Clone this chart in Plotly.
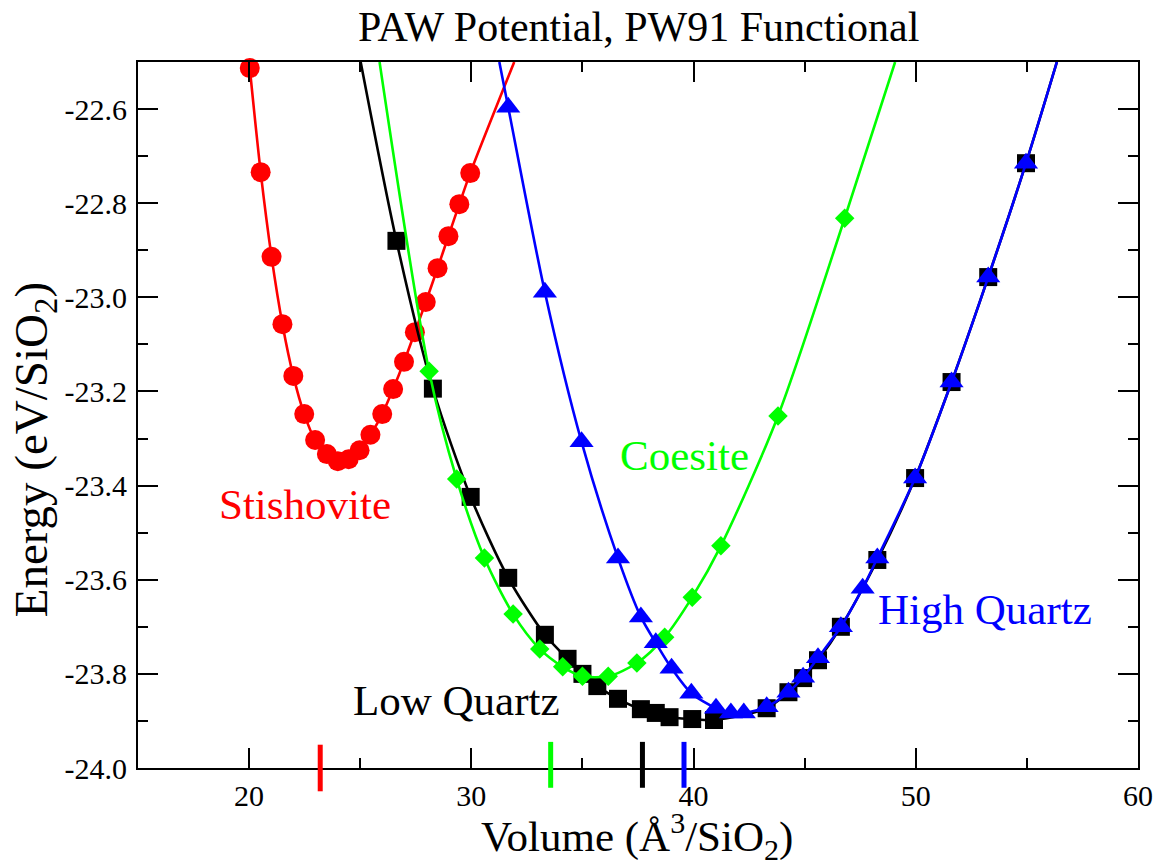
import plotly.graph_objects as go

# ---------------- data ----------------
stish_v = [20.03, 20.52, 21.01, 21.50, 21.99, 22.48, 22.97, 23.50, 23.99, 24.48, 24.97,
           25.46, 25.99, 26.48, 26.97, 27.46, 27.95, 28.48, 28.97, 29.46, 29.95]
stish_e = [-22.513, -22.734, -22.914, -23.057, -23.167, -23.248, -23.303, -23.333, -23.348,
           -23.344, -23.325, -23.292, -23.248, -23.195, -23.137, -23.074, -23.010, -22.938,
           -22.870, -22.802, -22.736]
stish_fit_v = [20.03, 20.52, 21.01, 21.50, 21.99, 22.48, 22.97, 23.50, 23.99, 24.48, 24.97,
               25.46, 25.99, 26.48, 26.97, 27.46, 27.95, 28.48, 28.97, 29.46, 29.95, 31.93]
stish_fit_e = [-22.513, -22.734, -22.914, -23.057, -23.167, -23.248, -23.303, -23.333, -23.348,
               -23.344, -23.325, -23.292, -23.248, -23.195, -23.137, -23.074, -23.010, -22.938,
               -22.870, -22.802, -22.736, -22.500]

lowq_v = [26.63, 28.27, 29.97, 31.66, 33.31, 34.33, 35.00, 35.67, 36.60, 37.63, 38.30, 38.92,
          39.94, 40.92, 43.29, 44.27, 44.93, 45.60, 46.63, 48.27, 49.97, 51.61, 53.26, 54.96]
lowq_e = [-22.880, -23.194, -23.424, -23.596, -23.717, -23.768, -23.800, -23.826, -23.853,
          -23.875, -23.883, -23.892, -23.896, -23.898, -23.873, -23.839, -23.809, -23.771,
          -23.700, -23.558, -23.384, -23.180, -22.957, -22.715]
lowq_fit_v = [25.02, 26.63, 28.27, 29.97, 31.66, 33.31, 34.33, 35.00, 35.67, 36.60, 37.63,
              38.30, 38.92, 39.94, 40.92, 43.29, 44.27, 44.93, 45.60, 46.63, 48.27, 49.97,
              51.61, 53.26, 54.96, 56.35]
lowq_fit_e = [-22.500, -22.880, -23.194, -23.424, -23.596, -23.717, -23.768, -23.800, -23.826,
              -23.853, -23.875, -23.883, -23.892, -23.896, -23.898, -23.873, -23.839, -23.809,
              -23.771, -23.700, -23.558, -23.384, -23.180, -22.957, -22.715, -22.500]

coes_v = [28.10, 29.34, 30.59, 31.88, 33.08, 34.11, 35.00, 36.16, 37.45, 38.70, 39.94,
          41.23, 43.80, 46.80]
coes_e = [-23.157, -23.386, -23.554, -23.673, -23.747, -23.785, -23.805, -23.805, -23.777,
          -23.722, -23.637, -23.528, -23.252, -22.832]
coes_fit_v = [25.87, 28.10, 29.34, 30.59, 31.88, 33.08, 34.11, 35.00, 36.16, 37.45, 38.70,
              39.94, 41.23, 43.80, 46.80, 49.07]
coes_fit_e = [-22.500, -23.157, -23.386, -23.554, -23.673, -23.747, -23.785, -23.805, -23.805,
              -23.777, -23.722, -23.637, -23.528, -23.252, -22.832, -22.500]

highq_v = [31.66, 33.31, 34.96, 36.60, 37.63, 38.30, 39.01, 39.90, 41.01, 41.68, 42.26, 43.29,
           44.27, 44.93, 45.60, 46.63, 47.61, 48.27, 49.97, 51.61, 53.26, 54.96]
highq_e = [-22.596, -22.989, -23.307, -23.554, -23.679, -23.734, -23.788, -23.841, -23.873,
           -23.883, -23.883, -23.870, -23.839, -23.807, -23.766, -23.700, -23.618, -23.554,
           -23.384, -23.180, -22.957, -22.715]
highq_fit_v = [31.26, 31.66, 33.31, 34.96, 36.60, 37.63, 38.30, 39.01, 39.90, 41.01, 41.68,
               42.26, 43.29, 44.27, 44.93, 45.60, 46.63, 47.61, 48.27, 49.97, 51.61, 53.26,
               54.96, 56.35]
highq_fit_e = [-22.500, -22.596, -22.989, -23.307, -23.554, -23.679, -23.734, -23.788, -23.841,
               -23.873, -23.883, -23.883, -23.870, -23.839, -23.807, -23.766, -23.700, -23.618,
               -23.554, -23.384, -23.180, -22.957, -22.715, -22.500]

# equilibrium volume markers (red, green, black, blue)
eq_volumes = [23.2, 33.57, 37.7, 39.57]
eq_colors = ["#ff0000", "#00ff00", "#000000", "#0000ff"]

y_tickvals = [-24.0, -23.8, -23.6, -23.4, -23.2, -23.0, -22.8, -22.6]
y_ticktext = ["-24.0", "-23.8", "-23.6", "-23.4", "-23.2", "-23.0", "-22.8", "-22.6"]
x_tickvals = [20, 30, 40, 50, 60]
x_ticktext = ["20", "30", "40", "50", "60"]

FONT = "Liberation Serif"
RED, GREEN, BLUE, BLACK = "#ff0000", "#00ff00", "#0000ff", "#000000"

fig = go.Figure()

def add_series(fv, fe, v, e, color, symbol, size):
    fig.add_trace(go.Scatter(x=fv, y=fe, mode="lines",
                             line=dict(color=color, width=2.6, shape="spline", smoothing=0.8),
                             hoverinfo="skip", showlegend=False))
    fig.add_trace(go.Scatter(x=v, y=e, mode="markers",
                             marker=dict(color=color, symbol=symbol, size=size,
                                         line=dict(width=0)),
                             cliponaxis=False, showlegend=False))

add_series(stish_fit_v, stish_fit_e, stish_v, stish_e, RED, "circle", 20)
add_series(lowq_fit_v, lowq_fit_e, lowq_v, lowq_e, BLACK, "square", 18)
add_series(coes_fit_v, coes_fit_e, coes_v, coes_e, GREEN, "diamond", 15)
add_series(highq_fit_v, highq_fit_e, highq_v, highq_e, BLUE, "triangle-up", 21)

# equilibrium volume bars at the bottom axis
for vol, col in zip(eq_volumes, eq_colors):
    y0, y1 = (-0.033, 0.033) if col == RED else (-0.028, 0.037)
    fig.add_shape(type="line", xref="x", yref="paper", x0=vol, x1=vol, y0=y0, y1=y1,
                  line=dict(color=col, width=5), layer="above")

axis_common = dict(
    ticks="inside", ticklen=20, tickwidth=1.5, tickcolor="black",
    showline=True, linewidth=2, linecolor="black", mirror="ticks",
    showgrid=False, zeroline=False,
)
fig.update_xaxes(range=[15, 60], tickmode="array", tickvals=x_tickvals, ticktext=x_ticktext,
                 minor=dict(tickmode="linear", tick0=0, dtick=5, ticks="inside", ticklen=10,
                            tickwidth=1.5, tickcolor="black", showgrid=False),
                 tickfont=dict(family=FONT, size=30, color="black"), **axis_common)
fig.update_yaxes(range=[-24.0, -22.5], tickmode="array", tickvals=y_tickvals, ticktext=y_ticktext,
                 minor=dict(tickmode="linear", tick0=-24.0, dtick=0.1, ticks="inside", ticklen=10,
                            tickwidth=1.5, tickcolor="black", showgrid=False),
                 ticklabelstandoff=3,
                 tickfont=dict(family=FONT, size=30, color="black"), **axis_common)

annotations = [
    dict(text="PAW Potential, PW91 Functional", x=0.5, y=1.049, xref="paper", yref="paper",
         font=dict(size=42, color="black")),
    dict(text="Volume (Å<sup>3</sup>/SiO<sub>2</sub>)", x=0.499, y=-0.097, xref="paper",
         yref="paper", font=dict(size=43, color="black")),
    dict(text="Energy (eV/SiO<sub>2</sub>)", x=-0.104, y=0.45, xref="paper", yref="paper",
         textangle=-90, font=dict(size=47, color="black")),
    dict(text="Stishovite", x=22.53, y=-23.441, xref="x", yref="y", font=dict(size=43, color=RED)),
    dict(text="Coesite", x=39.59, y=-23.335, xref="x", yref="y", font=dict(size=43, color=GREEN)),
    dict(text="Low Quartz", x=29.34, y=-23.856, xref="x", yref="y", font=dict(size=43, color=BLACK)),
    dict(text="High Quartz", x=53.1, y=-23.664, xref="x", yref="y", font=dict(size=43, color=BLUE)),
]
for a in annotations:
    a.update(showarrow=False, xanchor="center", yanchor="middle")
    a["font"]["family"] = FONT

fig.update_layout(
    width=1165, height=868,
    margin=dict(l=138, r=17, t=62, b=100),
    paper_bgcolor="white", plot_bgcolor="white",
    annotations=annotations,
    showlegend=False,
    font=dict(family=FONT, color="black"),
)

fig.write_html("out.html")
